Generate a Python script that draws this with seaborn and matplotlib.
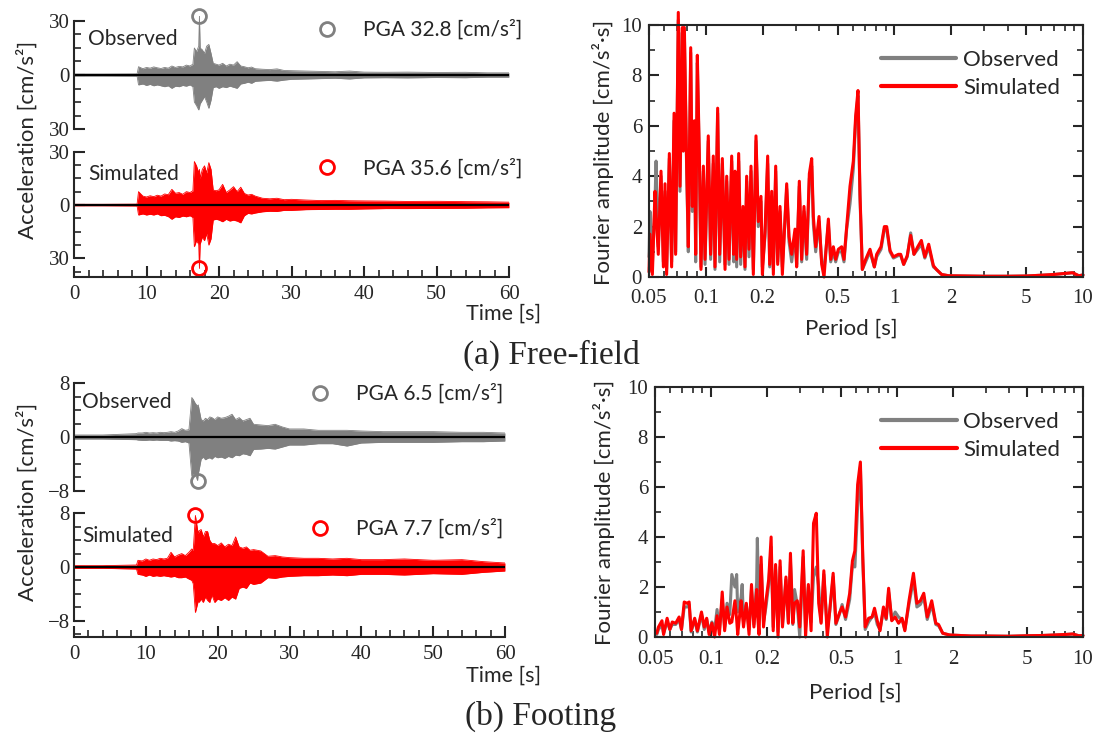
import matplotlib
matplotlib.use("Agg")
import matplotlib.pyplot as plt
import matplotlib.ticker as mticker
from matplotlib.font_manager import FontProperties, findfont
from matplotlib.lines import Line2D
import numpy as np
import pandas as pd
import seaborn as sns

# ---- acceleration time histories (envelope of the record) ----
t_grid = [0, 4, 8.7, 8.9, 9.5, 10, 10.5, 11, 11.5, 12, 12.5, 13, 13.5, 14, 14.5, 15, 15.5, 16,
          16.4, 16.6, 16.9, 17.2, 17.3, 17.4, 17.7, 18.0, 18.3, 18.6, 18.9, 19.2, 19.6, 20,
          20.5, 21, 21.5, 22, 22.5, 23, 23.5, 24, 24.5, 25, 26, 27, 28, 29, 30, 32, 34, 36,
          38, 40, 43, 46, 50, 54, 57, 60]

# free-field
ff_obs_up = [0.5, 0.5, 0.6, 4.6, 3.5, 4.2, 3.8, 4.5, 4.0, 3.6,
             4.2, 3.8, 5.0, 4.2, 4.8, 4.5, 5.5, 5.0, 6.0, 15,
             13, 16, 32.8, 15, 14, 12, 16, 17, 12, 6.5,
             6.0, 5.5, 6.5, 5.0, 6.0, 5.5, 7.4, 5.0, 4.6, 4.0,
             4.4, 3.5, 3.2, 3.0, 3.4, 2.5, 2.4, 2.2, 2.0, 1.8,
             2.2, 1.6, 1.5, 1.6, 1.4, 1.5, 1.2, 1.2]
ff_obs_lo = [-0.5, -0.5, -0.6, -5.5, -5.0, -5.8, -5.2, -6.0, -5.5, -6.0,
             -6.5, -6.0, -7.4, -6.2, -6.5, -5.8, -6.2, -5.5, -6.5, -15,
             -17, -19.4, -18, -16, -14, -12, -15, -18.5, -14, -7.0,
             -6.5, -7.4, -6.5, -7.0, -6.2, -6.8, -7.4, -5.0, -4.6, -4.0,
             -4.6, -3.5, -3.2, -3.0, -3.4, -2.8, -2.4, -2.2, -2.0, -1.8,
             -2.2, -1.6, -1.5, -1.6, -1.4, -1.5, -1.2, -1.2]
ff_sim_up = [0.4, 0.4, 0.5, 7.5, 5.0, 4.5, 5.2, 4.7, 5.5, 5.0,
             6.2, 5.8, 8.8, 6.6, 7.0, 6.0, 7.5, 7.0, 8.0, 24.4,
             22, 18, 20, 15, 20, 22, 18, 23.8, 20, 8.4,
             8.0, 8.5, 11.6, 7.0, 8.5, 10.3, 7.5, 10.0, 6.5, 5.6,
             6.0, 5.0, 3.8, 3.5, 3.8, 3.0, 3.2, 2.8, 2.5, 2.6,
             2.4, 2.3, 2.2, 2.0, 2.1, 1.9, 1.8, 1.6]
ff_sim_lo = [-0.4, -0.4, -0.5, -5.6, -5.0, -5.6, -5.2, -5.6, -5.0, -6.0,
             -5.8, -6.5, -8.0, -6.6, -7.0, -6.2, -6.6, -6.0, -7.0, -23.4,
             -20, -22, -35.6, -22, -18, -20, -16, -22.5, -19, -8.4,
             -8.0, -8.4, -9.4, -8.0, -9.0, -8.5, -9.0, -10.0, -6.0, -4.7,
             -5.0, -4.5, -3.8, -3.5, -3.6, -3.0, -3.0, -2.6, -2.5, -2.4,
             -2.4, -2.2, -2.0, -2.0, -1.9, -1.8, -1.6, -1.5]

# footing
ft_obs_up = [0.3, 0.3, 0.5, 0.6, 0.6, 0.7, 0.6, 0.65, 0.6, 0.7,
             0.65, 0.7, 0.8, 0.7, 0.9, 1.25, 1.0, 1.1, 5.9, 5.6,
             5.0, 4.6, 4.8, 4.2, 2.6, 2.4, 2.8, 2.6, 3.0, 2.9,
             2.6, 3.0, 2.8, 2.9, 3.1, 3.4, 2.6, 2.9, 2.4, 2.6,
             2.8, 1.9, 1.8, 1.7, 1.9, 1.5, 1.2, 1.2, 1.0, 1.0,
             1.0, 0.9, 0.8, 0.8, 0.8, 0.7, 0.7, 0.6]
ft_obs_lo = [-0.3, -0.3, -0.4, -0.45, -0.5, -0.5, -0.45, -0.5, -0.45, -0.5,
             -0.5, -0.5, -0.6, -0.55, -0.6, -0.8, -0.7, -0.9, -5.85, -5.5,
             -5.6, -6.5, -5.5, -5.0, -3.3, -3.0, -3.4, -3.2, -3.1, -3.3,
             -2.9, -3.1, -3.0, -3.2, -2.9, -3.1, -2.7, -2.8, -2.5, -2.6,
             -2.8, -1.85, -1.8, -1.7, -1.8, -1.5, -1.2, -1.2, -1.0, -1.0,
             -1.35, -0.9, -0.8, -0.8, -0.8, -0.7, -0.7, -0.6]
ft_sim_up = [0.2, 0.2, 0.3, 1.0, 0.9, 1.2, 1.0, 1.2, 1.1, 1.3,
             1.2, 1.3, 2.2, 1.5, 1.8, 2.0, 1.7, 2.2, 2.7, 2.5,
             7.7, 5.6, 5.0, 5.4, 5.6, 4.5, 5.3, 5.3, 4.0, 3.5,
             3.5, 3.2, 3.6, 3.0, 3.4, 3.2, 4.5, 3.0, 2.8, 3.0,
             2.5, 2.6, 2.4, 1.6, 1.7, 1.5, 1.4, 1.3, 1.3, 1.2,
             1.3, 1.1, 1.1, 1.2, 1.0, 1.1, 0.8, 0.6]
ft_sim_lo = [-0.2, -0.2, -0.3, -1.1, -1.2, -1.4, -1.2, -1.4, -1.3, -1.4,
             -1.3, -1.4, -1.5, -1.4, -1.6, -1.6, -1.5, -1.8, -2.0, -2.5,
             -6.8, -5.5, -5.0, -5.3, -4.8, -5.3, -4.5, -5.0, -5.3, -4.2,
             -5.3, -4.8, -5.0, -4.6, -5.0, -4.5, -4.8, -3.2, -3.0, -3.2,
             -2.4, -2.6, -2.4, -1.6, -1.7, -1.5, -1.4, -1.3, -1.3, -1.2,
             -1.3, -1.1, -1.1, -1.2, -1.0, -1.1, -0.8, -0.6]

# ---- Fourier amplitude spectra ----
period_ff = [0.0500, 0.0506, 0.0521, 0.0538, 0.0545, 0.0560, 0.0579, 0.0596, 0.0608, 0.0620,
             0.0641, 0.0659, 0.0679, 0.0692, 0.0715, 0.0730, 0.0751, 0.0760, 0.0770, 0.0792,
             0.0808, 0.0832, 0.0849, 0.0870, 0.0884, 0.0902, 0.0924, 0.0943, 0.0971, 0.0991,
             0.1031, 0.1061, 0.1096, 0.1119, 0.1156, 0.1185, 0.1224, 0.1265, 0.1291, 0.1328,
             0.1372, 0.1406, 0.1429, 0.1458, 0.1494, 0.1531, 0.1575, 0.1614, 0.1647, 0.1695,
             0.1737, 0.1787, 0.1846, 0.1899, 0.1962, 0.1995, 0.2061, 0.2129, 0.2182, 0.2236,
             0.2282, 0.2348, 0.2406, 0.2475, 0.2547, 0.2685, 0.2763, 0.2854, 0.2972, 0.3033,
             0.3133, 0.3224, 0.3316, 0.3427, 0.3541, 0.3644, 0.3718, 0.3826, 0.3985, 0.4117,
             0.4236, 0.4466, 0.4595, 0.4747, 0.4882, 0.5045, 0.5254, 0.5405, 0.5585, 0.5816,
             0.6058, 0.6233, 0.6413, 0.6571, 0.6762, 0.7043, 0.7427, 0.7829, 0.8055, 0.8494,
             0.8847, 0.9104, 0.9483, 0.9878, 1.05, 1.08, 1.12, 1.17, 1.22, 1.27,
             1.33, 1.39, 1.45, 1.52, 1.61, 1.67, 1.78, 1.94, 2.5, 3.0,
             4.0, 5.0, 6.0, 7.0, 8.0, 8.8, 9.5, 10.0]
ff_sim_fas = [0.2, 1.7, 0.1, 3.4, 2.5, 0.9, 4.2, 0.4, 3.7, 0.1,
              4.9, 0.4, 6.5, 0.9, 10.5, 3.6, 9.9, 5.0, 9.9, 4.4,
              1.2, 9.1, 2.8, 6.2, 0.9, 8.8, 4.9, 0.3, 4.4, 0.7,
              5.6, 0.9, 4.8, 0.4, 6.7, 0.9, 4.7, 0.3, 4.0, 0.7,
              4.8, 0.9, 4.2, 0.7, 4.9, 0.8, 2.8, 0.4, 4.0, 1.1,
              4.4, 0.1, 5.6, 2.2, 3.2, 0.1, 1.8, 4.8, 0.5, 3.4,
              0.1, 4.4, 0.5, 2.8, 0.1, 3.7, 1.6, 0.9, 1.9, 0.4,
              3.8, 0.7, 2.8, 0.9, 4.1, 4.7, 2.4, 1.2, 2.4, 0.5,
              0.0, 2.3, 0.7, 1.2, 0.7, 1.1, 1.2, 0.7, 2.0, 3.6,
              4.6, 6.4, 7.4, 3.3, 0.3, 0.7, 1.1, 0.4, 0.9, 1.2,
              2.0, 2.0, 1.05, 0.8, 0.9, 0.9, 0.5, 0.85, 1.65, 0.9,
              1.2, 1.45, 0.8, 1.3, 0.45, 0.3, 0.1, 0.05, 0.04, 0.03,
              0.03, 0.04, 0.07, 0.1, 0.14, 0.17, 0.05, 0.08]
ff_obs_fas = [0.8, 2.6, 0.5, 3.0, 4.6, 1.2, 4.0, 0.6, 3.4, 0.3,
              4.7, 0.6, 6.2, 1.0, 10.2, 3.4, 9.7, 5.0, 9.6, 4.2,
              1.0, 8.9, 2.6, 6.0, 0.6, 8.5, 4.6, 0.4, 4.2, 0.5,
              5.4, 0.7, 4.5, 0.3, 6.5, 0.6, 4.5, 0.5, 3.8, 0.5,
              4.6, 0.6, 4.0, 0.4, 4.6, 0.5, 2.6, 0.3, 3.8, 0.8,
              4.2, 0.3, 5.4, 2.0, 3.0, 0.4, 1.6, 4.5, 0.4, 3.2,
              0.3, 4.2, 0.6, 2.6, 0.4, 3.5, 1.4, 0.6, 1.7, 0.5,
              3.6, 0.6, 2.6, 0.7, 3.9, 4.4, 2.1, 1.0, 2.2, 0.6,
              0.3, 2.1, 0.6, 1.0, 0.6, 1.0, 1.0, 0.6, 1.9, 2.9,
              4.3, 6.2, 7.2, 3.1, 0.3, 0.6, 1.0, 0.4, 0.8, 1.1,
              1.9, 1.9, 1.0, 0.75, 0.85, 0.85, 0.5, 0.8, 1.75, 0.9,
              1.1, 1.3, 0.75, 1.2, 0.4, 0.3, 0.1, 0.05, 0.04, 0.03,
              0.03, 0.04, 0.07, 0.1, 0.14, 0.17, 0.05, 0.08]

period_ft = [0.0511, 0.0522, 0.0545, 0.0556, 0.0581, 0.0601, 0.0619, 0.0646, 0.0674, 0.0694,
             0.0718, 0.0743, 0.0763, 0.0782, 0.0817, 0.0845, 0.0889, 0.0920, 0.0948, 0.0977,
             0.1011, 0.1046, 0.1078, 0.1110, 0.1149, 0.1184, 0.1220, 0.1262, 0.1294, 0.1345,
             0.1374, 0.1392, 0.1452, 0.1471, 0.1496, 0.1548, 0.1602, 0.1651, 0.1701, 0.1760,
             0.1775, 0.1813, 0.1860, 0.1916, 0.1975, 0.2043, 0.2105, 0.2160, 0.2225, 0.2293,
             0.2352, 0.2423, 0.2529, 0.2606, 0.2674, 0.2754, 0.2814, 0.2911, 0.3000, 0.3130,
             0.3225, 0.3337, 0.3453, 0.3558, 0.3681, 0.3793, 0.3908, 0.4043, 0.4220, 0.4347,
             0.4537, 0.4694, 0.4899, 0.5069, 0.5289, 0.5568, 0.5761, 0.5937, 0.6143, 0.6356,
             0.6549, 0.6745, 0.7040, 0.7347, 0.7570, 0.7832, 0.8104, 0.8457, 0.8751, 0.9015,
             0.9369, 0.9777, 1.020, 1.065, 1.102, 1.160, 1.226, 1.279, 1.335, 1.393,
             1.454, 1.537, 1.617, 1.673, 1.762, 1.918, 2.5, 3.0, 4.0, 5.0,
             6.0, 7.0, 8.0, 8.8, 9.5, 10.0]
ft_sim_fas = [0.15, 0.4, 0.65, 0.1, 0.75, 0.3, 0.6, 0.55, 0.8, 0.3,
              1.4, 1.35, 1.4, 0.25, 0.75, 0.25, 1.0, 0.4, 0.75, 0.1,
              0.55, 0.0, 0.85, 0.1, 1.8, 0.25, 1.2, 0.55, 0.6, 1.45,
              0.7, 0.1, 1.45, 1.0, 0.4, 1.35, 0.1, 2.1, 0.4, 1.9,
              1.0, 0.1, 3.2, 0.4, 1.45, 2.3, 4.0, 0.25, 2.9, 0.0,
              3.05, 0.4, 2.4, 0.55, 3.35, 0.55, 1.35, 1.45, 0.4, 3.45,
              0.0, 2.1, 0.25, 4.55, 4.95, 1.35, 0.55, 2.65, 0.0, 1.05,
              2.55, 0.55, 0.95, 1.2, 0.8, 1.75, 3.05, 3.45, 6.1, 7.0,
              3.2, 0.4, 0.75, 0.8, 1.15, 0.65, 0.25, 1.2, 0.75, 1.95,
              0.65, 0.8, 0.55, 0.75, 0.25, 1.45, 2.55, 1.35, 1.45, 1.75,
              0.8, 1.45, 0.55, 0.5, 0.15, 0.08, 0.04, 0.04, 0.03, 0.05,
              0.06, 0.08, 0.1, 0.12, 0.05, 0.06]
ft_obs_fas = [0.1, 0.3, 0.5, 0.15, 0.6, 0.3, 0.5, 0.5, 0.7, 0.3,
              1.2, 1.2, 1.3, 0.2, 0.7, 0.2, 0.9, 0.3, 0.7, 0.2,
              0.6, 0.3, 1.1, 0.3, 1.5, 0.4, 1.35, 0.9, 2.5, 2.0,
              2.5, 1.0, 1.6, 2.1, 0.6, 1.3, 0.3, 1.9, 0.5, 2.2,
              3.95, 0.8, 2.9, 0.6, 1.2, 2.1, 3.6, 0.4, 2.7, 0.2,
              2.8, 0.5, 2.3, 0.6, 3.0, 0.5, 1.9, 1.3, 0.0, 3.2,
              0.4, 2.0, 0.6, 2.4, 2.8, 2.0, 0.6, 2.5, 0.3, 1.0,
              2.4, 0.5, 0.9, 1.3, 0.7, 1.5, 2.9, 2.8, 5.2, 6.8,
              3.0, 0.3, 0.6, 0.8, 1.0, 0.5, 0.3, 1.1, 0.7, 1.8,
              0.7, 1.0, 0.8, 0.7, 0.3, 1.3, 2.3, 1.2, 1.3, 1.6,
              0.7, 1.3, 0.5, 0.45, 0.15, 0.08, 0.04, 0.04, 0.03, 0.05,
              0.06, 0.08, 0.1, 0.12, 0.05, 0.06]

GRAY = "#808080"
RED = "#ff0000"
SANS = ["Lato", "DejaVu Sans"]
SERIF = ["Liberation Serif", "DejaVu Serif"]

sns.set_theme(style="ticks")
plt.rcParams["font.family"] = SANS
plt.rcParams["axes.linewidth"] = 1.5

# serif face for the tick numbers, taken straight from its file
serif_file = findfont(FontProperties(family="Liberation Serif"))
TICK_FONT = FontProperties(fname=serif_file, size=15)

fig = plt.figure(figsize=(11.02, 7.35), dpi=100)
W, H = 1102.0, 735.0


def box(x0, y0, x1, y1):
    # pixel box (top-left origin) -> figure fraction rect
    return [x0 / W, 1 - y1 / H, (x1 - x0) / W, (y1 - y0) / H]


def acc_panel(rect, up, lo, color, ylim, lim, minor, ticklabels, name, name_pos, pga_pos,
              bottom=False, sharex=None):
    ax = fig.add_axes(rect, sharex=sharex)
    ax.fill_between(t_grid, lo, up, color=color, lw=0)
    sns.lineplot(x=t_grid, y=up, ax=ax, color=color, lw=0.6)
    sns.lineplot(x=t_grid, y=lo, ax=ax, color=color, lw=0.6)
    ax.axhline(0, color="black", lw=1.6)
    # PGA marker
    up_a, lo_a = np.array(up), np.array(lo)
    i_up, i_lo = up_a.argmax(), lo_a.argmin()
    if up_a[i_up] >= -lo_a[i_lo]:
        tp, vp = t_grid[i_up], up_a[i_up]
    else:
        tp, vp = t_grid[i_lo], lo_a[i_lo]
    ax.plot([tp], [vp], "o", mfc="none", mec=color, ms=10, mew=2, clip_on=False)
    h = Line2D([], [], marker="o", ls="none", mfc="none", mec=color, ms=10, mew=2)
    ax.legend([h], ["PGA %.1f [cm/s²]" % abs(vp)], loc="center right", bbox_to_anchor=pga_pos,
              frameon=False, fontsize=15, handletextpad=0.7, borderaxespad=0, borderpad=0)
    ax.text(name_pos[0], name_pos[1], name, transform=ax.transAxes, fontsize=15, va="center")

    ax.set_xlim(0, 60)
    ax.set_ylim(*ylim)
    ax.spines["left"].set_bounds(-lim, lim)
    ax.spines["top"].set_visible(False)
    ax.spines["right"].set_visible(False)
    ax.set_yticks([-lim, 0, lim])
    ax.set_yticklabels(ticklabels, fontproperties=TICK_FONT)
    ax.yaxis.set_minor_locator(mticker.MultipleLocator(minor))
    ax.tick_params(axis="y", which="major", direction="in", length=8, width=1.5, pad=3)
    ax.tick_params(axis="y", which="minor", direction="in", length=5, width=1.2)
    if bottom:
        ax.set_xticks([0, 10, 20, 30, 40, 50, 60])
        ax.set_xticklabels(["0", "10", "20", "30", "40", "50", "60"], fontproperties=TICK_FONT)
        ax.xaxis.set_minor_locator(mticker.MultipleLocator(2))
        ax.tick_params(axis="x", which="major", direction="in", length=8, width=1.5, pad=6)
        ax.tick_params(axis="x", which="minor", direction="in", length=5, width=1.2)
    else:
        ax.spines["bottom"].set_visible(False)
        ax.tick_params(axis="x", which="both", bottom=False, labelbottom=False)
    ax.set_xlabel("")
    ax.set_ylabel("")
    return ax


def fas_panel(rect, period, obs, sim):
    ax = fig.add_axes(rect)
    n = len(period)
    df = pd.DataFrame({"period": period + period,
                       "amp": obs + sim,
                       "series": ["Observed"] * n + ["Simulated"] * n})
    sns.lineplot(data=df, x="period", y="amp", hue="series",
                 palette={"Observed": GRAY, "Simulated": RED},
                 estimator=None, sort=False, lw=2.2, ax=ax, clip_on=False)
    ax.set_xscale("log")
    ax.set_xlim(0.05, 10)
    ax.set_ylim(0, 10)
    ax.xaxis.set_minor_locator(mticker.LogLocator(base=10, subs=np.arange(2, 10)))
    ax.xaxis.set_minor_formatter(mticker.NullFormatter())
    ax.set_xticks([0.05, 0.1, 0.2, 0.5, 1, 2, 5, 10])
    ax.set_xticklabels(["0.05", "0.1", "0.2", "0.5", "1", "2", "5", "10"], fontproperties=TICK_FONT)
    ax.set_yticks([0, 2, 4, 6, 8, 10])
    ax.set_yticklabels(["0", "2", "4", "6", "8", "10"], fontproperties=TICK_FONT)
    ax.yaxis.set_minor_locator(mticker.MultipleLocator(1))
    ax.tick_params(which="major", direction="in", length=7, width=1.5, top=True, right=True)
    ax.tick_params(which="minor", direction="in", length=4, width=1.2, top=True, right=True)
    ax.tick_params(axis="x", which="major", pad=9)
    ax.tick_params(axis="y", which="major", pad=5)
    for s in ax.spines.values():
        s.set_visible(True)
        s.set_linewidth(1.5)
    handles, labels = ax.get_legend_handles_labels()
    leg = ax.legend(handles, labels, loc="upper right", bbox_to_anchor=(0.947, 0.90), frameon=False,
                    fontsize=16, handlelength=3.4, handletextpad=0.3, labelspacing=0.35,
                    borderaxespad=0, borderpad=0)
    for line in leg.get_lines():
        line.set_linewidth(3)
    ax.set_xlabel("")
    ax.set_ylabel("")
    return ax


# (a) free-field
a1 = acc_panel(box(74, 15.6, 509, 134.4), ff_obs_up, ff_obs_lo, GRAY, (-33, 33), 30, 7.5,
               ["30", "0", "30"], "Observed", (0.032, 0.805), (1.03, 0.879))
a2 = acc_panel(box(74, 146.2, 509, 276.5), ff_sim_up, ff_sim_lo, RED, (-40.1, 33), 30, 7.5,
               ["30", "0", "30"], "Simulated", (0.032, 0.783), (1.03, 0.829), bottom=True, sharex=a1)
fas_panel(box(649, 25, 1083, 277), period_ff, ff_obs_fas, ff_sim_fas)

# (b) footing
b1 = acc_panel(box(74, 378.1, 505, 495.9), ft_obs_up, ft_obs_lo, GRAY, (-8.8, 8.8), 8, 2,
               ["\u22128", "0", "8"], "Observed", (0.019, 0.797), (0.995, 0.868))
b2 = acc_panel(box(74, 508.1, 505, 637), ft_sim_up, ft_sim_lo, RED, (-10.46, 8.8), 8, 2,
               ["\u22128", "0", "8"], "Simulated", (0.019, 0.787), (0.995, 0.838), bottom=True, sharex=b1)
fas_panel(box(655, 387, 1083, 637), period_ft, ft_obs_fas, ft_sim_fas)

# axis labels and captions
fig.text(27 / W, 1 - 140 / H, "Acceleration [cm/s²]", rotation=90, ha="center", va="center", fontsize=16)
fig.text(27 / W, 1 - 502 / H, "Acceleration [cm/s²]", rotation=90, ha="center", va="center", fontsize=16)
fig.text(541 / W, 1 - 314 / H, "Time [s]", ha="right", va="center", fontsize=15.5)
fig.text(541 / W, 1 - 676 / H, "Time [s]", ha="right", va="center", fontsize=15.5)
fig.text(603 / W, 1 - 152 / H, "Fourier amplitude [cm/s²·s]", rotation=90, ha="center", va="center", fontsize=16)
fig.text(604 / W, 1 - 512 / H, "Fourier amplitude [cm/s²·s]", rotation=90, ha="center", va="center", fontsize=16)
fig.text(851 / W, 1 - 329 / H, "Period [s]", ha="center", va="center", fontsize=16)
fig.text(855 / W, 1 - 693 / H, "Period [s]", ha="center", va="center", fontsize=16)
fig.text(551 / W, 1 - 355 / H, "(a) Free-field", ha="center", va="center", fontsize=24, family=SERIF)
fig.text(541 / W, 1 - 716 / H, "(b) Footing", ha="center", va="center", fontsize=24, family=SERIF)

fig.savefig("out.png", dpi=100, facecolor="white")
